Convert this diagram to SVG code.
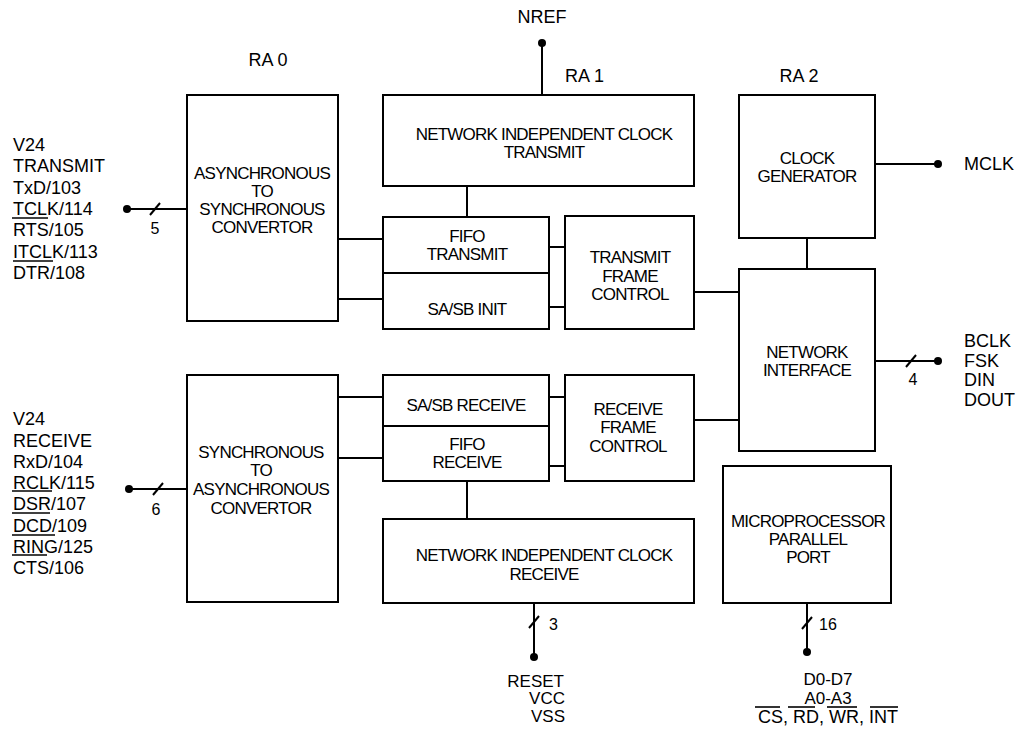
<svg xmlns="http://www.w3.org/2000/svg" width="1019" height="729" viewBox="0 0 1019 729">
  <style>
    .box { fill: #fff; stroke: #000; stroke-width: 2; }
    .wire { fill: none; stroke: #000; stroke-width: 2; }
    .bar { fill: none; stroke: #000; stroke-width: 1.6; }
    .dot { fill: #000; }
    text { font-family: "Liberation Sans", Arial, sans-serif; fill: #000; }
    .in { font-size: 17px; letter-spacing: -0.8px; text-anchor: middle; }
    .lbl { font-size: 18px; }
    .pin { font-size: 17px; }
    .num { font-size: 16px; }
    .mid { text-anchor: middle; }
  </style>
  <rect width="1019" height="729" fill="#fff"/>

  <!-- connectors -->
  <g id="connectors">
    <!-- NREF input -->
    <line class="wire" x1="542" y1="43" x2="542" y2="95"/>
    <circle class="dot" cx="542" cy="43" r="4"/>
    <!-- V24 transmit bus -->
    <line class="wire" x1="127" y1="209" x2="187" y2="209"/>
    <circle class="dot" cx="127" cy="209" r="4"/>
    <line class="wire" x1="150" y1="215" x2="160" y2="203"/>
    <!-- V24 receive bus -->
    <line class="wire" x1="129" y1="489" x2="187" y2="489"/>
    <circle class="dot" cx="129" cy="489" r="4"/>
    <line class="wire" x1="153" y1="495" x2="163" y2="483"/>
    <!-- transmit path -->
    <line class="wire" x1="338" y1="239" x2="383" y2="239"/>
    <line class="wire" x1="338" y1="299" x2="383" y2="299"/>
    <line class="wire" x1="467" y1="186" x2="467" y2="217"/>
    <line class="wire" x1="549" y1="247" x2="565" y2="247"/>
    <line class="wire" x1="549" y1="307" x2="565" y2="307"/>
    <line class="wire" x1="694" y1="292" x2="739" y2="292"/>
    <!-- receive path -->
    <line class="wire" x1="338" y1="397" x2="383" y2="397"/>
    <line class="wire" x1="338" y1="458" x2="383" y2="458"/>
    <line class="wire" x1="467" y1="481" x2="467" y2="519"/>
    <line class="wire" x1="549" y1="397" x2="565" y2="397"/>
    <line class="wire" x1="549" y1="466" x2="565" y2="466"/>
    <line class="wire" x1="694" y1="420" x2="739" y2="420"/>
    <!-- clock generator to network interface -->
    <line class="wire" x1="807" y1="238" x2="807" y2="269"/>
    <!-- MCLK -->
    <line class="wire" x1="875" y1="164" x2="938" y2="164"/>
    <circle class="dot" cx="938" cy="164" r="4"/>
    <!-- network interface bus -->
    <line class="wire" x1="875" y1="361" x2="938" y2="361"/>
    <circle class="dot" cx="938" cy="361" r="4"/>
    <line class="wire" x1="906" y1="367" x2="916" y2="355"/>
    <!-- RESET / VCC / VSS -->
    <line class="wire" x1="534" y1="603" x2="534" y2="657"/>
    <circle class="dot" cx="534" cy="657" r="4"/>
    <line class="wire" x1="529" y1="628" x2="539" y2="616"/>
    <!-- microprocessor bus -->
    <line class="wire" x1="807" y1="603" x2="807" y2="652"/>
    <circle class="dot" cx="807" cy="652" r="4"/>
    <line class="wire" x1="802" y1="629" x2="812" y2="617"/>
  </g>

  <!-- bus widths -->
  <g id="bus-widths">
    <text class="num mid" x="155" y="234">5</text>
    <text class="num mid" x="156" y="515">6</text>
    <text class="num mid" x="913" y="385">4</text>
    <text class="num" x="549" y="630">3</text>
    <text class="num" x="819" y="630">16</text>
  </g>

  <!-- section headings -->
  <g id="headings">
    <text class="lbl mid" x="268" y="66">RA 0</text>
    <text class="lbl" x="565" y="82">RA 1</text>
    <text class="lbl mid" x="799" y="82">RA 2</text>
    <text class="lbl mid" x="542" y="23">NREF</text>
  </g>

  <!-- V24 transmit signals -->
  <g id="v24-transmit">
    <text class="lbl" x="13" y="151">V24</text>
    <text class="lbl" x="13" y="172">TRANSMIT</text>
    <text class="lbl" x="13" y="194">TxD/103</text>
    <text class="lbl" x="13" y="215">TCLK/114</text>
    <text class="lbl" x="13" y="236">RTS/105</text>
    <text class="lbl" x="13" y="258">ITCLK/113</text>
    <text class="lbl" x="13" y="279">DTR/108</text>
    <line class="bar" x1="12" y1="218" x2="48" y2="218"/>
    <line class="bar" x1="13" y1="261" x2="53" y2="261"/>
  </g>

  <!-- V24 receive signals -->
  <g id="v24-receive">
    <text class="lbl" x="13" y="425">V24</text>
    <text class="lbl" x="13" y="447">RECEIVE</text>
    <text class="lbl" x="13" y="468">RxD/104</text>
    <text class="lbl" x="13" y="489">RCLK/115</text>
    <text class="lbl" x="13" y="510">DSR/107</text>
    <text class="lbl" x="13" y="532">DCD/109</text>
    <text class="lbl" x="13" y="553">RING/125</text>
    <text class="lbl" x="13" y="574">CTS/106</text>
    <line class="bar" x1="12" y1="491" x2="52" y2="491"/>
    <line class="bar" x1="12" y1="513" x2="50" y2="513"/>
    <line class="bar" x1="12" y1="535" x2="55" y2="535"/>
    <line class="bar" x1="12" y1="555" x2="47" y2="555"/>
  </g>

  <!-- right-hand signals -->
  <g id="mclk-label">
    <text class="lbl" x="964" y="170">MCLK</text>
  </g>
  <g id="ni-signals">
    <text class="lbl" x="964" y="347">BCLK</text>
    <text class="lbl" x="964" y="367">FSK</text>
    <text class="lbl" x="964" y="386">DIN</text>
    <text class="lbl" x="964" y="406">DOUT</text>
  </g>

  <!-- supply pins -->
  <g id="supply-pins">
    <text class="pin" x="564" y="687" text-anchor="end">RESET</text>
    <text class="pin" x="565" y="704" text-anchor="end">VCC</text>
    <text class="pin" x="565" y="722" text-anchor="end">VSS</text>
  </g>

  <!-- microprocessor pins -->
  <g id="mp-pins">
    <text class="pin mid" x="828" y="685">D0-D7</text>
    <text class="pin mid" x="828" y="704">A0-A3</text>
    <text class="lbl mid" x="828" y="723">CS, RD, WR, INT</text>
    <line class="bar" x1="755" y1="707" x2="780" y2="707"/>
    <line class="bar" x1="788" y1="707" x2="815" y2="707"/>
    <line class="bar" x1="827" y1="707" x2="857" y2="707"/>
    <line class="bar" x1="870" y1="707" x2="898" y2="707"/>
  </g>

  <!-- blocks -->
  <g id="async-to-sync">
    <rect class="box" x="187" y="95" width="151" height="226"/>
    <text class="in" x="262" y="179">ASYNCHRONOUS</text>
    <text class="in" x="262" y="197">TO</text>
    <text class="in" x="262" y="215">SYNCHRONOUS</text>
    <text class="in" x="262" y="233">CONVERTOR</text>
  </g>

  <g id="sync-to-async">
    <rect class="box" x="187" y="375" width="151" height="227"/>
    <text class="in" x="261" y="458">SYNCHRONOUS</text>
    <text class="in" x="261" y="476">TO</text>
    <text class="in" x="261" y="495">ASYNCHRONOUS</text>
    <text class="in" x="261" y="514">CONVERTOR</text>
  </g>

  <g id="nic-transmit">
    <rect class="box" x="383" y="95" width="311" height="91"/>
    <text class="in" x="544" y="140">NETWORK INDEPENDENT CLOCK</text>
    <text class="in" x="544" y="158">TRANSMIT</text>
  </g>

  <g id="fifo-transmit">
    <rect class="box" x="383" y="217" width="166" height="56"/>
    <text class="in" x="467" y="242">FIFO</text>
    <text class="in" x="467" y="260">TRANSMIT</text>
  </g>

  <g id="sasb-init">
    <rect class="box" x="383" y="273" width="166" height="56"/>
    <text class="in" x="467" y="315">SA/SB INIT</text>
  </g>

  <g id="transmit-frame-control">
    <rect class="box" x="565" y="216" width="129" height="113"/>
    <text class="in" x="630" y="263">TRANSMIT</text>
    <text class="in" x="630" y="282">FRAME</text>
    <text class="in" x="630" y="300">CONTROL</text>
  </g>

  <g id="sasb-receive">
    <rect class="box" x="383" y="375" width="166" height="51"/>
    <text class="in" x="466" y="411">SA/SB RECEIVE</text>
  </g>

  <g id="fifo-receive">
    <rect class="box" x="383" y="426" width="166" height="55"/>
    <text class="in" x="467" y="450">FIFO</text>
    <text class="in" x="467" y="468">RECEIVE</text>
  </g>

  <g id="receive-frame-control">
    <rect class="box" x="565" y="375" width="129" height="106"/>
    <text class="in" x="628" y="415">RECEIVE</text>
    <text class="in" x="628" y="433">FRAME</text>
    <text class="in" x="628" y="452">CONTROL</text>
  </g>

  <g id="nic-receive">
    <rect class="box" x="383" y="519" width="311" height="84"/>
    <text class="in" x="544" y="561">NETWORK INDEPENDENT CLOCK</text>
    <text class="in" x="544" y="580">RECEIVE</text>
  </g>

  <g id="clock-generator">
    <rect class="box" x="739" y="95" width="136" height="143"/>
    <text class="in" x="807" y="164">CLOCK</text>
    <text class="in" x="807" y="182">GENERATOR</text>
  </g>

  <g id="network-interface">
    <rect class="box" x="739" y="269" width="136" height="182"/>
    <text class="in" x="807" y="358">NETWORK</text>
    <text class="in" x="807" y="376">INTERFACE</text>
  </g>

  <g id="mp-parallel-port">
    <rect class="box" x="723" y="466" width="168" height="137"/>
    <text class="in" x="808" y="527">MICROPROCESSOR</text>
    <text class="in" x="808" y="545">PARALLEL</text>
    <text class="in" x="808" y="563">PORT</text>
  </g>
</svg>
